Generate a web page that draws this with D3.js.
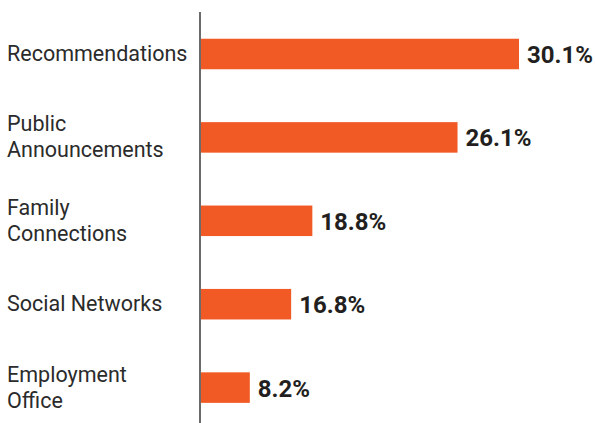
<!DOCTYPE html>
<html>
	<head>
		<meta charset="utf-8">
		<title>Bar chart</title>
		<script src="https://d3js.org/d3.v7.min.js"></script>
		<style>
			body { margin: 0; background: #fff; }
			text { font-family: Roboto, "Liberation Sans", sans-serif; }
		</style>
	</head>
	<body>
		<script>

			// categories, label lines for each
			var categories = ["Recommendations", "Public Announcements", "Family Connections", "Social Networks", "Employment Office"];
			var labelLines = [["Recommendations"], ["Public", "Announcements"], ["Family", "Connections"], ["Social Networks"], ["Employment", "Office"]];

			// shown percentages
			var values = [30.1, 26.1, 18.8, 16.8, 8.2];
			// bar lengths as drawn in the source (not proportional to the labels), in the same units
			var barValues = [30.1, 24.3, 10.6, 8.6, 4.7];

			var width = 595, height = 423;

			var svg = d3.select("body").append("svg")
				.attr("width", width)
				.attr("height", height);

			var x = d3.scaleLinear()
				.domain([0, 30.1])
				.range([200, 519]);

			var y = d3.scaleBand()
				.domain(categories)
				.range([12.3, 429.3])
				.paddingInner(0.634)
				.paddingOuter(0.317);

			var data = categories.map(function(c, i){
				return {cat: c, lines: labelLines[i], value: values[i], bar: barValues[i]};
			});

			// bars
			svg.selectAll("rect.bar")
				.data(data).enter().append("rect")
				.attr("class", "bar")
				.attr("x", x(0))
				.attr("y", function(d){ return y(d.cat); })
				.attr("width", function(d){ return x(d.bar) - x(0); })
				.attr("height", y.bandwidth())
				.attr("fill", "#f15a24");

			// vertical axis line
			svg.append("line")
				.attr("x1", x(0)).attr("x2", x(0))
				.attr("y1", 12).attr("y2", height)
				.attr("stroke", "#6b6b6b")
				.attr("stroke-width", 2);

			// value labels
			svg.selectAll("text.val")
				.data(data).enter().append("text")
				.attr("class", "val")
				.attr("x", function(d){ return x(d.bar) + 8; })
				.attr("y", function(d){ return y(d.cat) + y.bandwidth() / 2 + 9; })
				.attr("font-size", 24)
				.attr("font-weight", "bold")
				.attr("fill", "#231f20")
				.text(function(d){ return d.value.toFixed(1) + "%"; });

			// category labels
			var cats = svg.selectAll("text.cat")
				.data(data).enter().append("text")
				.attr("class", "cat")
				.attr("x", 7)
				.attr("y", function(d){
					var c = y(d.cat) + y.bandwidth() / 2;
					return d.lines.length == 1 ? c + 7 : c - 6;
				})
				.attr("font-size", 21.5)
				.attr("fill", "#2b2b2b");

			cats.selectAll("tspan")
				.data(function(d){ return d.lines; }).enter().append("tspan")
				.attr("x", 7)
				.attr("dy", function(d, i){ return i == 0 ? 0 : 26; })
				.text(function(d){ return d; });

		</script>
	</body>
</html>
